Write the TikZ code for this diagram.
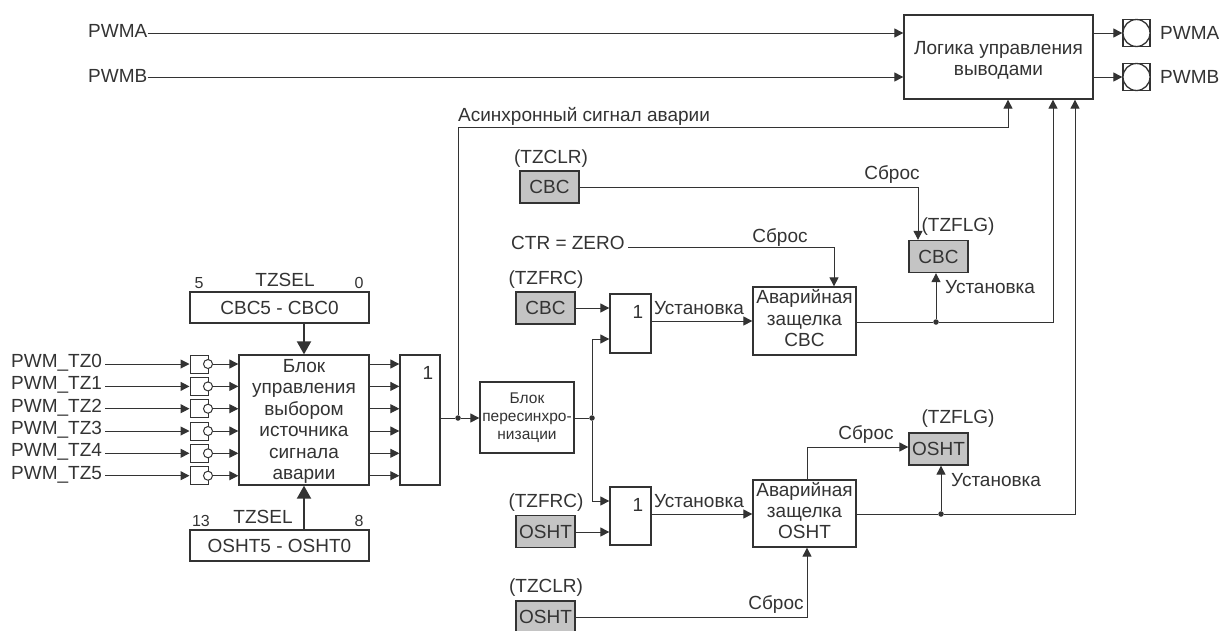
\documentclass[tikz,border=0pt]{standalone}
\usepackage{fontspec}
\setmainfont{Liberation Sans}
\usetikzlibrary{arrows.meta}
\definecolor{ink}{HTML}{333333}
\definecolor{boxgrey}{HTML}{C4C4C4}
\tikzset{
  x=1pt,y=-1pt,
  every node/.style={text=ink},
  bx/.style={draw=ink,line width=1.3pt,fill=white,inner sep=0pt,align=center,font=\fontsize{19}{21.4}\selectfont},
  bxg/.style={bx,fill=boxgrey,minimum width=59pt,minimum height=32pt},
  lbl/.style={inner sep=0pt,text height=13.6pt,text depth=0pt,font=\fontsize{19}{21}\selectfont},
  smalllbl/.style={lbl,text height=11.2pt,font=\fontsize{16}{18}\selectfont},
  wire/.style={draw=ink,line width=1pt},
  arr/.style={wire,-{Triangle[length=9pt,width=9pt]}},
  thickarr/.style={draw=ink,line width=2pt,-{Triangle[length=13pt,width=14pt]}},
  jdot/.style={circle,fill=ink,inner sep=0pt,minimum size=5.5pt},
  bub/.style={circle,draw=ink,line width=1pt,fill=white,inner sep=0pt,minimum size=9pt},
}
\begin{document}
\begin{tikzpicture}
\useasboundingbox (0,0) rectangle (1219,630);
\clip (0,0) rectangle (1219,630);
% top logic
\node[bx,minimum width=189pt,minimum height=84pt] (logic) at (998.5,57) {\rule{0pt}{20pt}Логика управления\\выводами};
\node[lbl,anchor=west] (pwmaIn) at (88,31) {PWMA};
\node[lbl,anchor=west] (pwmbIn) at (88,76) {PWMB};
\draw[arr] (pwmaIn.east |- 0,33) -- (logic.west |- 0,33);
\draw[arr] (pwmbIn.east |- 0,77) -- (logic.west |- 0,77);
\foreach \n/\y/\t in {A/33/PWMA,B/77/PWMB}{
  \node[draw=ink,line width=1.3pt,fill=white,minimum size=27pt,inner sep=0pt] (pin\n) at (1136.5,\y) {};
  \node[circle,draw=ink,line width=1.3pt,fill=white,minimum size=27pt,inner sep=0pt] (pinc\n) at (1136.5,\y) {};
  \draw[arr] (logic.east |- 0,\y) -- (pin\n.west);
  \node[lbl,anchor=west] (out\n) at (1160,\y) {\t};
}
% left part
\node[bx,minimum width=179pt,minimum height=31pt] (cbcsel) at (279.5,307.5) {CBC5 - CBC0};
\node[bx,minimum width=179pt,minimum height=31pt] (oshtsel) at (279.5,545.5) {OSHT5 - OSHT0};
\node[bx,minimum width=130pt,minimum height=130pt] (sel) at (304,420) {\rule{0pt}{16pt}Блок\\управления\\выбором\\источника\\сигнала\\аварии};
\node[bx,minimum width=40pt,minimum height=130pt] (or0) at (420,420) {};
\node[lbl] (or0one) at (428,373) {1};
\node[lbl] (tzselA) at (285,280) {TZSEL};
\node[smalllbl] (bitA) at (199,283) {5};
\node[smalllbl] (bitB) at (359,283) {0};
\node[lbl] (tzselB) at (263,517) {TZSEL};
\node[smalllbl] (bitC) at (201,521) {13};
\node[smalllbl] (bitD) at (359,521) {8};
\draw[thickarr] (sel.north |- cbcsel.south) -- (sel.north);
\draw[thickarr] (sel.south |- oshtsel.north) -- (sel.south);
\foreach \i/\y/\ly in {0/364/361,1/386.4/383,2/408.7/406,3/431/428,4/453.3/450,5/475.7/473}{
  \node[lbl,anchor=west] (tz\i) at (11,\ly) {PWM\_TZ\i};
  \node[draw=ink,line width=1pt,fill=white,minimum width=18pt,minimum height=18pt,inner sep=0pt] (inv\i) at (199,\y) {};
  \node[bub] (bub\i) at (208,\y) {};
  \draw[arr] (105,\y) -- (inv\i.west);
  \draw[arr] (bub\i.east) -- (sel.west |- 0,\y);
  \draw[arr] (sel.east |- 0,\y) -- (or0.west |- 0,\y);
}
% resync
\node[bx,minimum width=94pt,minimum height=71pt,font=\fontsize{15.5}{18}\selectfont] (sync) at (527,417.5) {Блок\\пересинхро-\\низации};
\node[jdot] (d1) at (458,418) {};
\node[jdot] (d2) at (592,418) {};
\draw[wire] (or0.east |- 0,418) -- (d1);
\draw[arr] (d1) -- (sync.west |- 0,418);
\draw[wire] (sync.east |- 0,418) -- (d2);
\draw[arr] (d1) |- (458,127) -| (logic.south -| 1008,0);
\node[lbl,anchor=west] (async) at (458,115) {Асинхронный сигнал аварии};
% CBC branch
\node[bxg] (clrcbc) at (549.5,187) {CBC};
\node[lbl] (clrcbcL) at (551,157) {(TZCLR)};
\node[bxg] (flgcbc) at (938.5,256.5) {CBC};
\node[lbl] (flgcbcL) at (958,225) {(TZFLG)};
\draw[arr] (clrcbc.east) -| (flgcbc.north -| 918,0);
\node[lbl] (r1) at (892,173) {Сброс};
\node[lbl,anchor=west] (ctr) at (511,243) {CTR = ZERO};
\node[bx,minimum width=103pt,minimum height=68pt] (latcbc) at (804.5,321) {Аварийная\\защелка\\CBC\rule[-6pt]{0pt}{6pt}};
\draw[arr] (628,247) -| (latcbc.north -| 834,0);
\node[lbl] (r2) at (780,236) {Сброс};
\node[bxg] (frccbc) at (545.5,308) {CBC};
\node[lbl] (frccbcL) at (546,278) {(TZFRC)};
\node[bx,minimum width=41pt,minimum height=59pt] (or1) at (630.5,323.5) {};
\node[lbl] (or1one) at (638,312) {1};
\draw[arr] (frccbc.east) -- (or1.west |- 0,308);
\draw[arr] (d2) |- (or1.west |- 0,339);
\draw[arr] (or1.east |- 0,321) -- (latcbc.west |- 0,321);
\node[lbl] (s1) at (699,308) {Установка};
\node[jdot] (d3) at (936,322) {};
\draw[wire] (latcbc.east |- 0,322) -- (d3);
\draw[arr] (d3) -- (flgcbc.south -| d3);
\draw[arr] (d3) -| (logic.south -| 1053,0);
\node[lbl,anchor=west] (s2) at (945,287) {Установка};
% OSHT branch
\node[bxg] (frcosht) at (545.5,531.5) {OSHT};
\node[lbl] (frcoshtL) at (546,501) {(TZFRC)};
\node[bx,minimum width=41pt,minimum height=58pt] (or2) at (630.5,516) {};
\node[lbl] (or2one) at (638,505) {1};
\draw[arr] (d2) |- (or2.west |- 0,501);
\draw[arr] (frcosht.east |- 0,532) -- (or2.west |- 0,532);
\node[bx,minimum width=103pt,minimum height=67pt] (latosht) at (804.5,513.5) {Аварийная\\защелка\\OSHT\rule[-6pt]{0pt}{6pt}};
\draw[arr] (or2.east |- 0,514) -- (latosht.west |- 0,514);
\node[lbl] (s3) at (699,501) {Установка};
\node[bxg] (flgosht) at (938.5,449) {OSHT};
\node[lbl] (flgoshtL) at (958,417) {(TZFLG)};
\draw[arr] (latosht.north -| 807,0) |- (flgosht.west |- 0,447);
\node[lbl] (r3) at (866,433) {Сброс};
\node[jdot] (d4) at (941,514) {};
\draw[wire] (latosht.east |- 0,514) -- (d4);
\draw[arr] (d4) -- (flgosht.south -| d4);
\draw[arr] (d4) -| (logic.south -| 1075,0);
\node[lbl,anchor=west] (s4) at (951,480) {Установка};
\node[bxg] (clrosht) at (545.5,617) {OSHT};
\node[lbl] (clroshtL) at (546,586) {(TZCLR)};
\draw[arr] (clrosht.east) -| (latosht.south -| 807,0);
\node[lbl] (r4) at (776,603) {Сброс};
\end{tikzpicture}
\end{document}
